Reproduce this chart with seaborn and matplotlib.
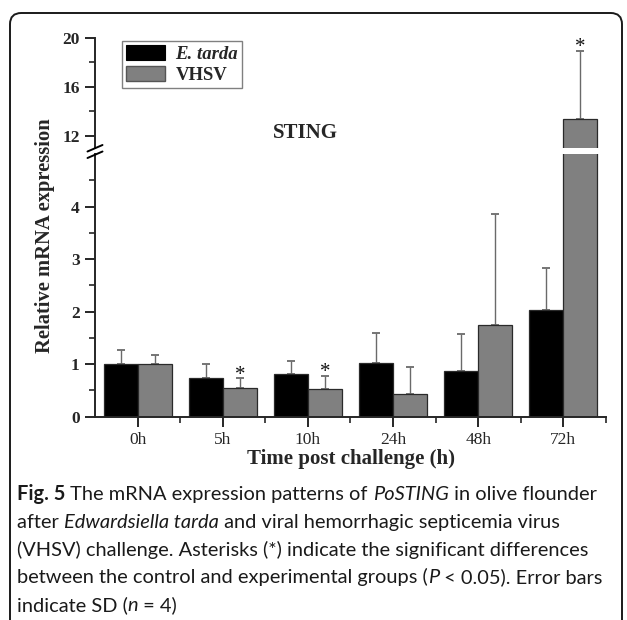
import matplotlib
matplotlib.use("Agg")
import matplotlib.pyplot as plt
import seaborn as sns
import pandas as pd
from matplotlib.patches import FancyBboxPatch, Patch
from matplotlib.lines import Line2D
from matplotlib.ticker import FixedLocator

# ---------------- data ----------------
times = ["0h", "5h", "10h", "24h", "48h", "72h"]
groups = ["E. tarda", "VHSV"]
etarda_mean = [1.00, 0.73, 0.82, 1.02, 0.865, 2.03]
etarda_sd = [0.265, 0.28, 0.25, 0.58, 0.715, 0.81]
vhsv_mean = [1.00, 0.54, 0.53, 0.44, 1.75, 13.35]
vhsv_sd = [0.175, 0.19, 0.245, 0.51, 2.12, 5.59]
vhsv_signif = [False, True, True, False, False, True]
etarda_signif = [False, False, False, False, False, False]

df = pd.DataFrame({
    "time": times * 2,
    "group": [groups[0]] * len(times) + [groups[1]] * len(times),
    "value": etarda_mean + vhsv_mean,
})
sds = {groups[0]: etarda_sd, groups[1]: vhsv_sd}
sig = {groups[0]: etarda_signif, groups[1]: vhsv_signif}
palette = {groups[0]: "#000000", groups[1]: "#808080"}

# ---------------- style ----------------
sns.set_style("ticks")
serif = ["Liberation Serif", "DejaVu Serif"]
plt.rcParams["font.family"] = serif
plt.rcParams["axes.linewidth"] = 1.4

W, H = 627, 620
fig = plt.figure(figsize=(W / 100, H / 100), dpi=100)

def fx(px):
    return px / W

def fy(py):
    return 1 - py / H

left, right = 95, 606
y0_low, y5_low = 416.7, 154.2
y20_up, y11_up = 37.7, 148.3
ax = fig.add_axes([fx(left), fy(y0_low), (right - left) / W, (y0_low - y5_low) / H])
axu = fig.add_axes([fx(left), fy(y11_up), (right - left) / W, (y11_up - y20_up) / H])
limits = {ax: (0, 5), axu: (11, 20)}

for a in (ax, axu):
    sns.barplot(data=df, x="time", y="value", hue="group", hue_order=groups,
                order=times, palette=palette, width=0.8, gap=0, errorbar=None,
                edgecolor="#2a2a2a", linewidth=0.9, legend=False, ax=a)
    lo, hi = limits[a]
    for cont, g in zip(a.containers, groups):
        for bar, sd, s in zip(cont, sds[g], sig[g]):
            xc = bar.get_x() + bar.get_width() / 2
            top = bar.get_height()
            a.errorbar(xc, top, yerr=[[0], [sd]], fmt="none", ecolor="#6a6a6a",
                       elinewidth=1.0, capsize=2.7, capthick=1.3, zorder=0.5)
            yy = top + sd
            if s and lo <= yy <= hi:
                a.annotate("*", xy=(xc, yy), xytext=(0, -1.0), textcoords="offset points",
                           ha="center", va="baseline", fontsize=15, color="#111111",
                           annotation_clip=False)
    a.set_xlim(-0.5, len(times) - 0.5)
    a.set_ylim(lo, hi)
    a.set_xlabel("")
    a.set_ylabel("")

# lower axes
ax.yaxis.set_major_locator(FixedLocator([0, 1, 2, 3, 4]))
ax.yaxis.set_minor_locator(FixedLocator([0.5, 1.5, 2.5, 3.5, 4.5]))
ax.xaxis.set_minor_locator(FixedLocator([0.5, 1.5, 2.5, 3.5, 4.5, 5.5]))
ax.spines["top"].set_visible(False)
ax.spines["right"].set_visible(False)
ax.tick_params(axis="both", which="major", length=7, width=1.4, direction="out",
               labelsize=12.5, pad=4)
ax.tick_params(axis="both", which="minor", length=4, width=1.2, direction="out")
for lab in ax.get_yticklabels():
    lab.set_fontweight("bold")
for lab in ax.get_xticklabels():
    lab.set_fontsize(12.5)

# upper axes
axu.yaxis.set_major_locator(FixedLocator([12, 16, 20]))
axu.yaxis.set_minor_locator(FixedLocator([14, 18]))
for sp in ("top", "right", "bottom"):
    axu.spines[sp].set_visible(False)
axu.tick_params(axis="x", which="both", bottom=False, labelbottom=False)
axu.tick_params(axis="y", which="major", length=7, width=1.4, direction="out",
                labelsize=12.5, pad=4)
axu.tick_params(axis="y", which="minor", length=4, width=1.2, direction="out")
for lab in axu.get_yticklabels():
    lab.set_fontweight("bold")
axu.patch.set_alpha(0)

# break marks on the y axis
for (x1, y1, x2, y2) in [(87.5, 151.5, 102.5, 145.0), (87.5, 158.0, 102.5, 151.5)]:
    fig.add_artist(Line2D([fx(x1), fx(x2)], [fy(y1), fy(y2)], color="black", lw=1.4,
                          transform=fig.transFigure))

# labels
fig.text(fx(45), fy(236), "Relative mRNA expression", rotation=90, ha="center",
         va="center", fontsize=14.8, fontweight="bold")
fig.text(fx(351), fy(459), "Time post challenge (h)", ha="center", va="center",
         fontsize=15, fontweight="bold")
fig.text(fx(305), fy(133), "STING", ha="center", va="center", fontsize=15,
         fontweight="bold")

# legend
handles = [Patch(facecolor=palette[groups[0]], edgecolor="#000000", lw=0.8),
           Patch(facecolor=palette[groups[1]], edgecolor="#555555", lw=1.0)]
leg = fig.legend(handles, groups, loc="upper left", bbox_to_anchor=(fx(122), fy(41)),
                 bbox_transform=fig.transFigure, borderaxespad=0, frameon=True,
                 fancybox=False, framealpha=1, edgecolor="#808080",
                 prop={"family": serif, "weight": "bold", "size": 13.5},
                 handlelength=2.1, handleheight=0.85, handletextpad=0.55,
                 labelspacing=0.2, borderpad=0.2)
leg.get_frame().set_linewidth(1.0)
leg.get_texts()[0].set_fontstyle("italic")

# outer rounded frame
frame = FancyBboxPatch((fx(10), -0.1), fx(622) - fx(10), fy(13) + 0.1,
                       boxstyle="round,pad=0,rounding_size=0.018",
                       transform=fig.transFigure, fill=False, edgecolor="#1a1a1a",
                       lw=1.4, clip_on=False)
fig.add_artist(frame)

# caption
cap_font = ["Lato", "DejaVu Sans"]
caption_lines = [
    [("Fig. 5", "bold", "normal"), (" The mRNA expression patterns of ", "normal", "normal"),
     ("PoSTING", "normal", "italic"), (" in olive flounder", "normal", "normal")],
    [("after ", "normal", "normal"), ("Edwardsiella tarda", "normal", "italic"),
     (" and viral hemorrhagic septicemia virus", "normal", "normal")],
    [("(VHSV) challenge. Asterisks (*) indicate the significant differences", "normal", "normal")],
    [("between the control and experimental groups (", "normal", "normal"),
     ("P", "normal", "italic"), (" < 0.05). Error bars", "normal", "normal")],
    [("indicate SD (", "normal", "normal"), ("n", "normal", "italic"), (" = 4)", "normal", "normal")],
]
baselines = [500, 528, 556, 583, 611]

renderer = fig.canvas.get_renderer()

def draw_line(runs, x0, yb, size):
    x = x0
    arts = []
    for txt, wt, st in runs:
        t = fig.text(fx(x), fy(yb), txt, ha="left", va="baseline", fontsize=size,
                     fontweight=wt, fontstyle=st, family=cap_font, color="#1a1a1a")
        bb = t.get_window_extent(renderer)
        x += bb.width
        arts.append(t)
    return x, arts

# fit caption size so that the first line spans the same width as the reference
end, arts = draw_line(caption_lines[0], 17, baselines[0], 12)
for a_ in arts:
    a_.remove()
size = 12 * (597 - 17) / (end - 17)
for runs, yb in zip(caption_lines, baselines):
    draw_line(runs, 17, yb, size)

fig.savefig("out.png", dpi=100)
